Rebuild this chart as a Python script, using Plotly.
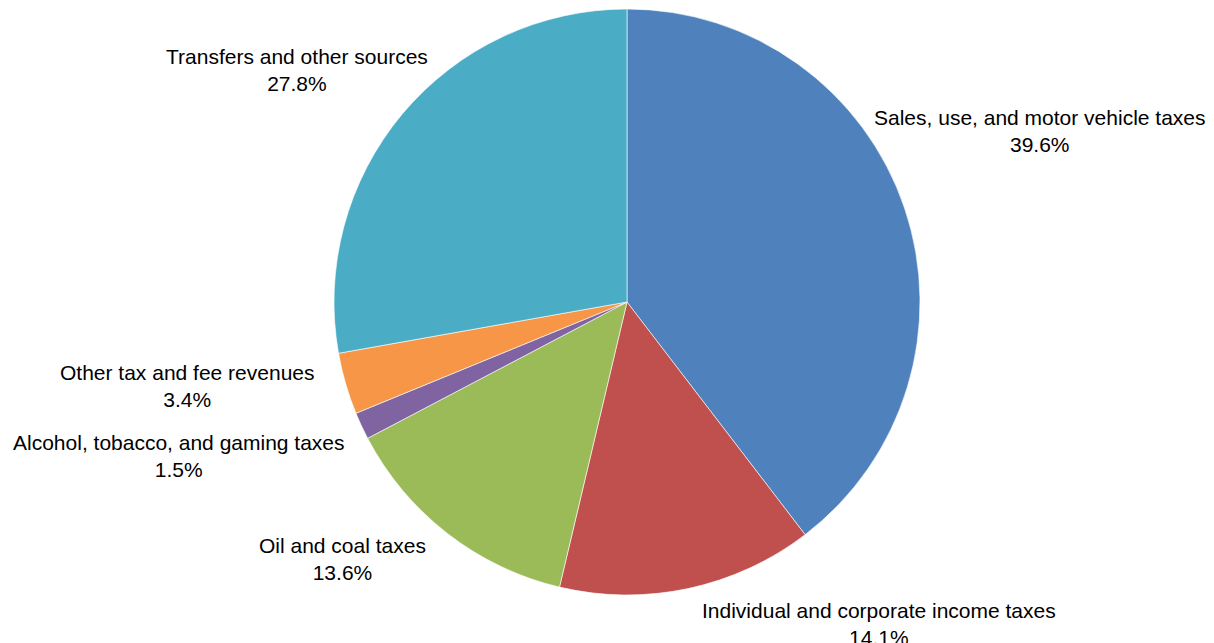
import plotly.graph_objects as go

categories = [
    "Sales, use, and motor vehicle taxes",
    "Individual and corporate income taxes",
    "Oil and coal taxes",
    "Alcohol, tobacco, and gaming taxes",
    "Other tax and fee revenues",
    "Transfers and other sources",
]
shares = [39.6, 14.1, 13.6, 1.5, 3.4, 27.8]
colors = ["#4F81BD", "#C0504D", "#9BBB59", "#8064A2", "#F79646", "#4BACC6"]

OFF = 8  # page body margin
W, H = 1214 - OFF, 643 - OFF
# label block centres in window pixels (layout only)
label_px = [(1040, 131), (879, 624), (342, 559), (179, 456), (188, 386), (297, 70)]

fig = go.Figure(go.Pie(
    labels=categories,
    values=shares,
    sort=False,
    direction="clockwise",
    rotation=0,
    marker=dict(colors=colors, line=dict(color="rgba(255,255,255,0.6)", width=1)),
    textinfo="none",
    hoverinfo="label+percent",
    domain=dict(x=[(334 - OFF) / W, (920 - OFF) / W],
                y=[1 - (595 - OFF) / H, 1 - (9 - OFF) / H]),
    showlegend=False,
))

for name, v, (px, py) in zip(categories, shares, label_px):
    fig.add_annotation(
        x=(px - OFF) / W, y=1 - (py - OFF) / H, xref="paper", yref="paper",
        text=f"{name}<br>{v:.1f}%", showarrow=False,
        xanchor="center", yanchor="middle", align="center",
        font=dict(family="Liberation Sans, Arial, sans-serif", size=21, color="#000000"),
    )

fig.update_layout(
    width=W, height=H,
    margin=dict(l=0, r=0, t=0, b=0),
    paper_bgcolor="white", plot_bgcolor="white",
)

fig.write_html("out.html")
